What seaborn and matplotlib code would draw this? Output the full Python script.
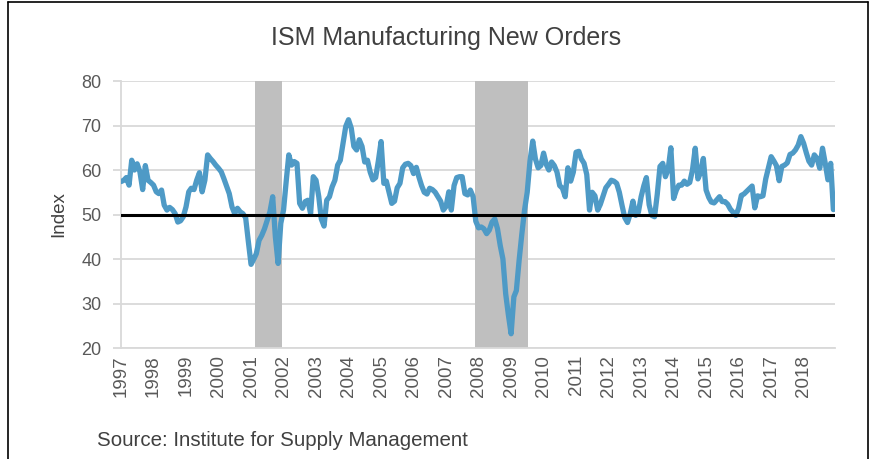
import pandas as pd
import numpy as np
import matplotlib
matplotlib.use("Agg")
import matplotlib.pyplot as plt
import matplotlib.dates as mdates
from matplotlib.lines import Line2D
import seaborn as sns

# ISM new orders index, monthly, Jan 1997 - Dec 2018
new_orders=[
    57.4,57.7,58.3,56.6,62.2,60.0,61.4,59.6,55.6,61.0,57.7,57.2,  # 1997
    56.6,55.1,54.7,55.5,52.1,51.0,51.6,51.1,50.2,48.3,48.6,49.5,  # 1998
    51.7,55.1,55.9,55.6,57.7,59.4,55.1,57.7,63.4,62.6,61.9,61.1,  # 1999
    60.4,59.6,58.1,56.4,54.7,51.7,50.2,51.4,50.6,50.2,49.3,44.0,  # 2000
    38.8,40.0,41.2,44.2,45.3,46.8,48.7,50.6,54.0,45.0,39.0,48.0,  # 2001
    51.0,57.7,63.4,61.1,61.9,61.5,52.5,51.4,52.9,53.2,50.2,58.5,  # 2002
    57.7,54.0,49.0,47.4,53.2,54.0,56.2,57.7,61.1,62.2,66.0,69.8,  # 2003
    71.3,69.4,65.3,64.5,66.8,65.3,61.8,62.2,59.5,57.8,58.3,62.0,  # 2004
    66.4,57.0,57.5,55.0,52.5,53.0,56.0,57.0,60.5,61.3,61.5,61.0,  # 2005
    59.2,60.6,58.5,56.5,55.0,54.6,55.9,55.6,55.0,54.0,53.0,51.0,  # 2006
    51.8,55.1,51.0,56.5,58.3,58.5,58.5,54.7,54.4,55.5,54.0,48.5,  # 2007
    47.0,47.2,46.8,45.7,46.5,48.3,49.0,46.8,43.0,40.0,32.2,27.5,  # 2008
    23.2,31.5,32.9,39.7,45.5,51.0,55.0,62.0,66.5,62.5,60.5,61.0,  # 2009
    63.8,61.2,60.0,61.8,61.0,59.5,56.5,55.9,54.0,60.5,57.5,59.5,  # 2010
    64.0,64.2,62.5,61.5,59.0,51.0,55.0,54.2,51.0,52.3,54.2,56.0,  # 2011
    56.8,57.7,57.5,57.0,55.0,52.0,49.3,48.2,50.2,53.0,49.8,50.5,  # 2012
    54.0,56.5,58.3,52.2,49.8,49.5,54.5,60.8,61.5,58.5,60.2,65.0,  # 2013
    53.6,55.5,56.6,56.6,57.5,56.8,57.2,60.0,64.9,58.0,59.5,62.6,  # 2014
    55.5,53.8,52.8,52.6,53.3,54.0,52.9,52.9,52.3,51.2,50.5,49.8,  # 2015
    51.4,54.3,54.6,55.2,55.8,56.4,51.5,54.2,54.0,54.2,58.0,60.5,  # 2016
    63.0,62.0,61.0,57.6,60.8,61.1,61.6,63.5,63.8,64.5,65.6,67.5,  # 2017
    66.0,63.8,62.0,61.1,63.4,62.6,60.4,64.9,61.5,57.8,61.5,51.1,  # 2018
]
months=pd.date_range("1997-01-01",periods=len(new_orders),freq="MS")
year_ticks=pd.date_range("1997-01-01","2018-01-01",freq="YS")
year_labels=[str(d.year) for d in year_ticks]
recessions=[("2001-03-01","2001-11-01"),("2007-12-01","2009-06-01")]
y_ticks=[20,30,40,50,60,70,80]

sns.set_theme(style="white")
plt.rcParams['font.family']=['Liberation Sans','DejaVu Sans']

df=pd.DataFrame({"Month":months,"Index":new_orders})

fig=plt.figure(figsize=(8.79,4.59),dpi=100)
ax=fig.add_axes([0.1377,0.2418,0.8123,0.5817])

sns.lineplot(data=df,x="Month",y="Index",color="#4E9AC6",lw=3.8,ax=ax,zorder=3)

# recession shading, a bit wider than the months themselves like Excel bars
for start,end in recessions:
    ax.axvspan(pd.Timestamp(start)-pd.Timedelta(days=12),pd.Timestamp(end)+pd.Timedelta(days=40),color="#BFBFBF",lw=0,zorder=2)

ax.axhline(50,color="black",lw=2.2,zorder=4)

ax.set_xlim(months[0],pd.Timestamp("2018-12-20"))
ax.set_ylim(20,80)
ax.set_yticks(y_ticks)
ax.set_xticks(year_ticks)
ax.set_xticklabels(year_labels,rotation=90)

ax.set_axisbelow(True)
ax.yaxis.grid(True,color="#D9D9D9",lw=1.3)
ax.xaxis.grid(False)
for s in ["top","right"]:
    ax.spines[s].set_visible(False)
for s in ["left","bottom"]:
    ax.spines[s].set_color("#D9D9D9")
    ax.spines[s].set_linewidth(1.3)

ax.tick_params(axis="y",length=6,width=1.3,color="#D9D9D9",pad=8,labelsize=13,labelcolor="#595959",left=True)
ax.tick_params(axis="x",length=0,pad=5,labelsize=13.5,labelcolor="#595959")

ax.set_xlabel("")
ax.set_ylabel("Index",fontsize=13.5,color="#404040")
ax.yaxis.set_label_coords(-0.076,0.5)

fig.text(446/879,1-38/459,"ISM Manufacturing New Orders",ha="center",va="center",fontsize=18,color="#404040")
fig.text(97/879,1-440/459,"Source: Institute for Supply Management",ha="left",va="center",fontsize=14.8,color="#404040")

# outer frame of the exhibit
for xs,ys in [([8/879,8/879],[0,1-2/459]),([868/879,868/879],[0,1-2/459]),([8/879,868/879],[1-2/459,1-2/459])]:
    fig.add_artist(Line2D(xs,ys,transform=fig.transFigure,color="black",lw=1.2))

fig.savefig("out.png",dpi=100)
